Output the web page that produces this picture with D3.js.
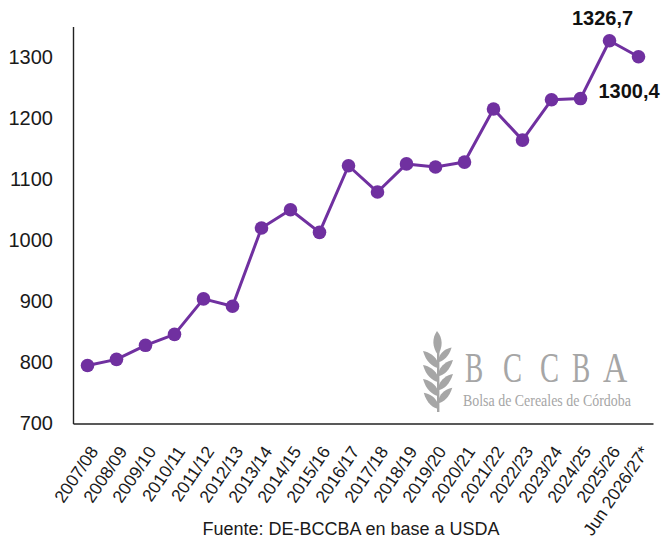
<!DOCTYPE html>
<html>
<head>
<meta charset="utf-8">
<script src="https://cdn.jsdelivr.net/npm/d3@7"></script>
<style>
  html, body { margin: 0; padding: 0; background: #fff; }
  svg { display: block; font-family: "Liberation Sans", Arial, sans-serif; }
</style>
</head>
<body>
<svg id="chart" width="662" height="541"></svg>
<script>
const categories = ["2007/08","2008/09","2009/10","2010/11","2011/12","2012/13","2013/14","2014/15","2015/16","2016/17","2017/18","2018/19","2019/20","2020/21","2021/22","2022/23","2023/24","2024/25","2025/26","Jun 2026/27*"];
const values = [795, 805, 828, 846, 904, 892, 1020, 1050, 1013, 1122, 1079, 1125, 1120, 1128, 1215, 1164, 1230, 1232, 1326.7, 1300.4];
const yTicks = [700, 800, 900, 1000, 1100, 1200, 1300];
const sourceText = "Fuente: DE-BCCBA en base a USDA";

const svg = d3.select("#chart");
const purple = "#7030A0";

const x = d3.scalePoint().domain(categories).range([73, 653]).padding(0.5);
const y = d3.scaleLinear().domain([700, 1350]).range([423.5, 26.5]);

// Y axis
const gy = svg.append("g").attr("transform", "translate(73,0)")
  .call(d3.axisLeft(y).tickValues(yTicks).tickSize(0).tickSizeOuter(0).tickPadding(20).tickFormat(d3.format("d")));
gy.select(".domain").attr("stroke", "#222").attr("stroke-width", 1.4);
gy.selectAll("text").attr("font-size", 20).attr("fill", "#1a1a1a")
  .attr("font-family", "'Liberation Sans', Arial, sans-serif");

// X axis
const gx = svg.append("g").attr("transform", "translate(0,423.5)")
  .call(d3.axisBottom(x).tickSize(0).tickSizeOuter(0));
gx.select(".domain").attr("stroke", "#222").attr("stroke-width", 1.4);
gx.selectAll("text")
  .attr("font-size", 17.5).attr("fill", "#1a1a1a")
  .attr("font-family", "'Liberation Sans', Arial, sans-serif")
  .attr("text-anchor", "end")
  .attr("y", 0).attr("dy", 0)
  .attr("transform", "translate(11,28) rotate(-56)");

// Line
const line = d3.line().x((d, i) => x(categories[i])).y(d => y(d));
svg.append("path").datum(values)
  .attr("d", line).attr("fill", "none")
  .attr("stroke", purple).attr("stroke-width", 3).attr("stroke-linejoin", "round");

svg.append("g").selectAll("circle").data(values).join("circle")
  .attr("cx", (d, i) => x(categories[i])).attr("cy", d => y(d))
  .attr("r", 6.8).attr("fill", purple);

// Data labels
const fmt = v => String(v).replace(".", ",");
const n = values.length;
svg.append("text")
  .attr("x", x(categories[n - 2]) - 7).attr("y", y(values[n - 2]) - 16)
  .attr("text-anchor", "middle").attr("font-size", 20).attr("font-weight", "bold").attr("fill", "#111")
  .text(fmt(values[n - 2]));
svg.append("text")
  .attr("x", x(categories[n - 1]) - 40).attr("y", y(values[n - 1]) + 41)
  .attr("text-anchor", "start").attr("font-size", 20).attr("font-weight", "bold").attr("fill", "#111")
  .text(fmt(values[n - 1]));

// Source
svg.append("text").attr("x", 351).attr("y", 535).attr("text-anchor", "middle")
  .attr("font-size", 18).attr("fill", "#1a1a1a").text(sourceText);

// Logo
const logo = svg.append("g").attr("fill", "#a6a6a6");
const serif = "'Liberation Serif', 'DejaVu Serif', serif";
// wheat ear
logo.append("path").attr("d", "M437,331 C443,338 443,347 438,355 C432,347 432,338 437,331 Z");
const leafL = (cx, cy, s) => `M${cx},${cy} C${cx-5*s},${cy-1*s} ${cx-12*s},${cy-6*s} ${cx-15*s},${cy-17*s} C${cx-9*s},${cy-16*s} ${cx-2*s},${cy-12*s} ${cx},${cy-5*s} Z`;
const leafR = (cx, cy, s) => `M${cx},${cy} C${cx+5*s},${cy-1*s} ${cx+11*s},${cy-6*s} ${cx+14*s},${cy-16*s} C${cx+8*s},${cy-15*s} ${cx+2*s},${cy-11*s} ${cx},${cy-5*s} Z`;
[[438,368,1],[438,382,1],[438,396,1],[438,409,0.95]].forEach(([cx,cy,s]) => {
  logo.append("path").attr("d", leafL(cx, cy, s));
});
[[439,362,0.9],[439,376,1],[439,390,1],[439,403,0.95]].forEach(([cx,cy,s]) => {
  logo.append("path").attr("d", leafR(cx, cy, s));
});
logo.append("rect").attr("x", 437).attr("y", 352).attr("width", 2.4).attr("height", 60);
const letters = ["B","C","C","B","A"];
const letterX = [465, 503, 540, 572, 603];
const letterScale = [0.65, 0.68, 0.68, 0.65, 0.8];
letters.forEach((l, i) => {
  logo.append("text")
    .attr("transform", `translate(${letterX[i]},382) scale(${letterScale[i]},1)`)
    .attr("font-family", serif).attr("font-size", 42)
    .text(l);
});
logo.append("text")
  .attr("transform", "translate(463,406) scale(0.82,1)")
  .attr("font-family", serif).attr("font-size", 17)
  .text("Bolsa de Cereales de Córdoba");
</script>
</body>
</html>
